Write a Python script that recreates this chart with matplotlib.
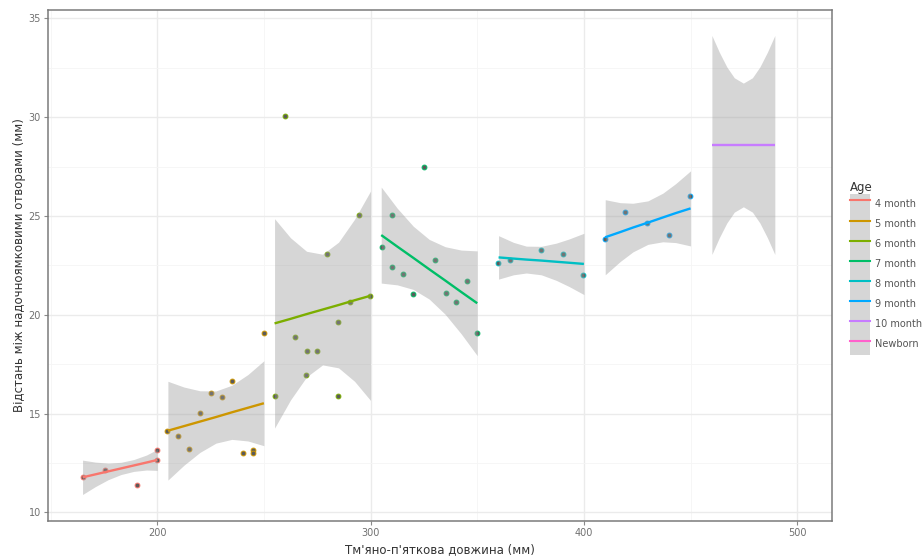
import matplotlib
matplotlib.use("Agg")
import matplotlib.pyplot as plt
from matplotlib.patches import Patch
from matplotlib.lines import Line2D
from matplotlib.legend_handler import HandlerTuple
from matplotlib.ticker import MultipleLocator

plt.rcParams['font.family'] = ['DejaVu Sans']

# ---------------- data ----------------
ages = ['4 month', '5 month', '6 month', '7 month', '8 month', '9 month', '10 month', 'Newborn']
age_colors = ['#F8766D', '#CD9600', '#7CAE00', '#00BE67', '#00BFC4', '#00A9FF', '#C77CFF', '#FF61CC']

# observed points per group
pts_4m_x = [165.4, 175.4, 190.4, 200.1, 200.1]
pts_4m_y = [11.77, 12.15, 11.38, 13.14, 12.64]
pts_5m_x = [204.8, 209.9, 215.0, 220.0, 225.2, 230.2, 235.2, 240.0, 245.0, 245.0, 250.2]
pts_5m_y = [14.10, 13.85, 13.20, 15.05, 16.03, 15.85, 16.62, 13.02, 13.15, 13.00, 19.07]
pts_6m_x = [255.2, 259.9, 264.6, 269.8, 270.0, 274.7, 279.7, 284.6, 284.6, 290.3, 294.7, 299.7]
pts_6m_y = [15.89, 30.05, 18.86, 16.95, 18.18, 18.18, 23.06, 19.65, 15.89, 20.66, 25.05, 20.95]
pts_7m_x = [305.2, 309.9, 309.9, 315.0, 320.0, 325.2, 330.2, 335.3, 340.0, 345.0, 349.7]
pts_7m_y = [23.41, 25.05, 22.43, 22.06, 21.05, 27.46, 22.77, 21.11, 20.66, 21.71, 19.06]
pts_8m_x = [359.9, 365.2, 379.9, 390.0, 399.7]
pts_8m_y = [22.60, 22.75, 23.25, 23.08, 22.01]
pts_9m_x = [409.9, 419.3, 429.4, 440.0, 449.7]
pts_9m_y = [23.82, 25.20, 24.62, 24.03, 26.03]
pts_10m_x = []
pts_10m_y = []
pts_nb_x = []
pts_nb_y = []

# fitted line (lm) per group: x positions, fit values, confidence band lower/upper
fit_4m_x = [165, 171, 177, 183, 189, 195, 200]
fit_4m_y = [11.77, 11.92, 12.07, 12.22, 12.37, 12.52, 12.65]
fit_4m_lo = [10.90, 11.30, 11.65, 11.91, 12.07, 12.14, 12.12]
fit_4m_hi = [12.64, 12.54, 12.49, 12.53, 12.67, 12.90, 13.18]

fit_5m_x = [205, 212.5, 220, 227.5, 235, 242.5, 250]
fit_5m_y = [14.13, 14.36, 14.59, 14.82, 15.06, 15.29, 15.52]
fit_5m_lo = [11.63, 12.38, 13.03, 13.50, 13.69, 13.61, 13.37]
fit_5m_hi = [16.63, 16.34, 16.15, 16.14, 16.43, 16.97, 17.67]

fit_6m_x = [255, 262.5, 270, 277.5, 285, 292.5, 300]
fit_6m_y = [19.56, 19.79, 20.03, 20.26, 20.49, 20.73, 20.96]
fit_6m_lo = [14.26, 15.69, 16.85, 17.46, 17.31, 16.63, 15.66]
fit_6m_hi = [24.86, 23.89, 23.21, 23.06, 23.67, 24.83, 26.26]

fit_7m_x = [305, 312.5, 320, 327.5, 335, 342.5, 350]
fit_7m_y = [24.03, 23.45, 22.88, 22.30, 21.73, 21.15, 20.58]
fit_7m_lo = [21.60, 21.51, 21.28, 20.79, 20.02, 19.03, 17.93]
fit_7m_hi = [26.46, 25.39, 24.48, 23.81, 23.44, 23.27, 23.23]

fit_8m_x = [360, 367, 373, 380, 387, 393, 400]
fit_8m_y = [22.90, 22.84, 22.79, 22.74, 22.68, 22.63, 22.57]
fit_8m_lo = [21.80, 22.02, 22.11, 22.02, 21.74, 21.43, 21.02]
fit_8m_hi = [24.00, 23.66, 23.47, 23.46, 23.62, 23.83, 24.12]

fit_9m_x = [410, 417, 423, 430, 437, 443, 450]
fit_9m_y = [23.92, 24.18, 24.41, 24.66, 24.92, 25.14, 25.38]
fit_9m_lo = [22.02, 22.69, 23.18, 23.56, 23.69, 23.65, 23.48]
fit_9m_hi = [25.82, 25.67, 25.64, 25.76, 26.15, 26.63, 27.28]

fit_10m_x = [460, 463.5, 467, 470.5, 474.75, 479, 482.5, 486, 489.5]
fit_10m_y = [28.59, 28.59, 28.59, 28.59, 28.59, 28.59, 28.59, 28.59, 28.59]
fit_10m_lo = [23.05, 23.90, 24.64, 25.19, 25.46, 25.19, 24.64, 23.90, 23.05]
fit_10m_hi = [34.13, 33.28, 32.54, 31.99, 31.72, 31.99, 32.54, 33.28, 34.13]

x_ticks = [200, 300, 400, 500]
y_ticks = [10, 15, 20, 25, 30, 35]
x_label = "Тм'яно-п'яткова довжина (мм)"
y_label = "Відстань між надочноямковими отворами (мм)"
legend_title = "Age"

groups = [
    (pts_4m_x, pts_4m_y, fit_4m_x, fit_4m_y, fit_4m_lo, fit_4m_hi),
    (pts_5m_x, pts_5m_y, fit_5m_x, fit_5m_y, fit_5m_lo, fit_5m_hi),
    (pts_6m_x, pts_6m_y, fit_6m_x, fit_6m_y, fit_6m_lo, fit_6m_hi),
    (pts_7m_x, pts_7m_y, fit_7m_x, fit_7m_y, fit_7m_lo, fit_7m_hi),
    (pts_8m_x, pts_8m_y, fit_8m_x, fit_8m_y, fit_8m_lo, fit_8m_hi),
    (pts_9m_x, pts_9m_y, fit_9m_x, fit_9m_y, fit_9m_lo, fit_9m_hi),
    (pts_10m_x, pts_10m_y, fit_10m_x, fit_10m_y, fit_10m_lo, fit_10m_hi),
    (pts_nb_x, pts_nb_y, [], [], [], []),
]

# ---------------- figure ----------------
fig = plt.figure(figsize=(9.24, 5.56), dpi=100)
ax = fig.add_axes([48 / 924, 1 - 521 / 556, (832 - 48) / 924, (521 - 10) / 556])

ax.set_xlim(148.8, 516.3)
ax.set_ylim(9.56, 35.42)

ax.set_xticks(x_ticks)
ax.set_yticks(y_ticks)
ax.xaxis.set_minor_locator(MultipleLocator(50))
ax.yaxis.set_minor_locator(MultipleLocator(2.5))
ax.grid(True, which='major', color='#EBEBEB', lw=1.0, zorder=0)
ax.grid(True, which='minor', color='#F5F5F5', lw=0.6, zorder=0)
ax.set_axisbelow(True)
for s in ax.spines.values():
    s.set_color('#7a7a7a')
    s.set_linewidth(1.1)
ax.tick_params(which='major', length=3, width=0.8, color='#8a8a8a',
               labelsize=7, labelcolor='#707070', pad=2)
ax.tick_params(which='minor', length=0)

for (px, py, fx, fy, flo, fhi), col in zip(groups, age_colors):
    if px:
        ax.scatter(px, py, s=12, facecolor='#5a5a5a', edgecolor=col,
                   linewidth=0.7, zorder=2)
    if fx:
        ax.fill_between(fx, flo, fhi, color='#999999', alpha=0.4, lw=0, zorder=3)
        ax.plot(fx, fy, color=col, lw=1.7, zorder=4, solid_capstyle='butt')

ax.set_xlabel(x_label, fontsize=8.5, color='#333333', labelpad=4)
ax.set_ylabel(y_label, fontsize=8.5, color='#333333', labelpad=2)

handles = [(Patch(facecolor='#d6d6d6', edgecolor='none'),
            Line2D([], [], color=c, lw=1.5)) for c in age_colors]
leg = fig.legend(handles, ages, loc='upper left', bbox_to_anchor=(850 / 924, 1 - 181 / 556),
                 frameon=False, fontsize=7, title=legend_title, title_fontsize=8.5,
                 handler_map={tuple: HandlerTuple(ndivide=1, pad=0)},
                 handlelength=2.06, handleheight=2.8, labelspacing=0.0,
                 handletextpad=0.5, borderaxespad=0, borderpad=0)
leg._legend_box.align = 'left'
for t in leg.get_texts():
    t.set_color('#555555')
leg.get_title().set_color('#333333')

fig.savefig('out.png', dpi=100)
